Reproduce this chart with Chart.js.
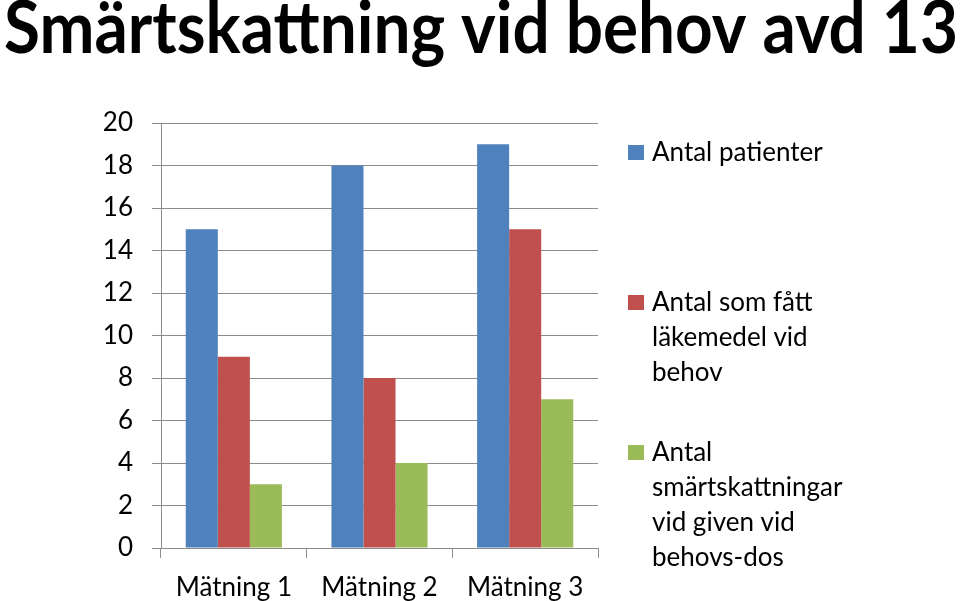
<!DOCTYPE html>
<html lang="sv">
<head>
<meta charset="UTF-8">
<title>Smärtskattning vid behov avd 13</title>
<script src="https://cdn.jsdelivr.net/npm/chart.js"></script>
<style>
  body { margin: 0; background: #fff; }
  canvas { display: block; }
</style>
</head>
<body>
<canvas id="painChart" width="960" height="601"></canvas>
<script>
// Chart data
const chartTitle = 'Smärtskattning vid behov avd 13';
const categories = ['Mätning 1', 'Mätning 2', 'Mätning 3'];
const patients = [15, 18, 19];
const givenMedication = [9, 8, 15];
const painRatings = [3, 4, 7];
const legendLines = [
    ['Antal patienter'],
    ['Antal som fått', 'läkemedel vid', 'behov'],
    ['Antal', 'smärtskattningar', 'vid given vid', 'behovs-dos']
];
const yMax = 20;
const yStep = 2;

const seriesColors = ['#4F81BD', '#C0504D', '#9BBB59'];
const gridColor = '#8C8C8C';
const fontFamily = 'Lato, "Open Sans", sans-serif';

// Title drawn squeezed to the full width, like the original slide
const titlePlugin = {
    id: 'fitTitle',
    afterDraw(chart) {
        const ctx = chart.ctx;
        ctx.save();
        ctx.font = 'bold 72px ' + fontFamily;
        ctx.fillStyle = '#000';
        ctx.textBaseline = 'alphabetic';
        const w = ctx.measureText(chartTitle).width;
        ctx.translate(4, 53);
        ctx.scale(954 / w, 1);
        ctx.fillText(chartTitle, 0, 0);
        ctx.restore();
    }
};

// Legend on the right with wrapped labels
const legendPlugin = {
    id: 'sideLegend',
    afterDraw(chart) {
        const ctx = chart.ctx;
        ctx.save();
        ctx.font = '26px ' + fontFamily;
        ctx.textBaseline = 'alphabetic';
        chart.data.datasets.forEach((ds, i) => {
            const base = 161 + i * 150;
            ctx.fillStyle = ds.backgroundColor;
            ctx.fillRect(628, base - 16, 16, 15);
            ctx.fillStyle = '#000';
            legendLines[i].forEach((line, j) => ctx.fillText(line, 652, base + j * 35));
        });
        ctx.restore();
    }
};

function makeDataset(i, values) {
    return {
        label: legendLines[i].join(' '),
        data: values,
        backgroundColor: seriesColors[i],
        borderWidth: 0,
        barPercentage: 1,
        categoryPercentage: 0.66
    };
}

function drawChart() {
    const ctx = document.getElementById('painChart').getContext('2d');
    new Chart(ctx, {
        type: 'bar',
        data: {
            labels: categories,
            datasets: [
                makeDataset(0, patients),
                makeDataset(1, givenMedication),
                makeDataset(2, painRatings)
            ]
        },
        options: {
            responsive: false,
            animation: false,
            layout: { padding: { top: 123, right: 362, left: 0, bottom: 0 } },
            plugins: {
                legend: { display: false },
                title: { display: false },
                tooltip: { enabled: false }
            },
            scales: {
                x: {
                    grid: { offset: true, drawOnChartArea: false, drawTicks: true, tickLength: 10, color: gridColor },
                    border: { color: gridColor },
                    ticks: { color: '#000', font: { family: fontFamily, size: 26 }, padding: 14 },
                    afterFit(scale) { scale.height = 53; }
                },
                y: {
                    min: 0,
                    max: yMax,
                    ticks: { stepSize: yStep, color: '#000', font: { family: fontFamily, size: 26 }, padding: 19 },
                    grid: { color: gridColor, tickLength: 9 },
                    border: { color: gridColor },
                    afterFit(scale) { scale.width = 161; }
                }
            }
        },
        plugins: [titlePlugin, legendPlugin]
    });
}

if (document.fonts && document.fonts.load) {
    Promise.all([
        document.fonts.load('26px Lato'),
        document.fonts.load('bold 72px Lato')
    ]).then(drawChart, drawChart);
} else {
    drawChart();
}
</script>
</body>
</html>
